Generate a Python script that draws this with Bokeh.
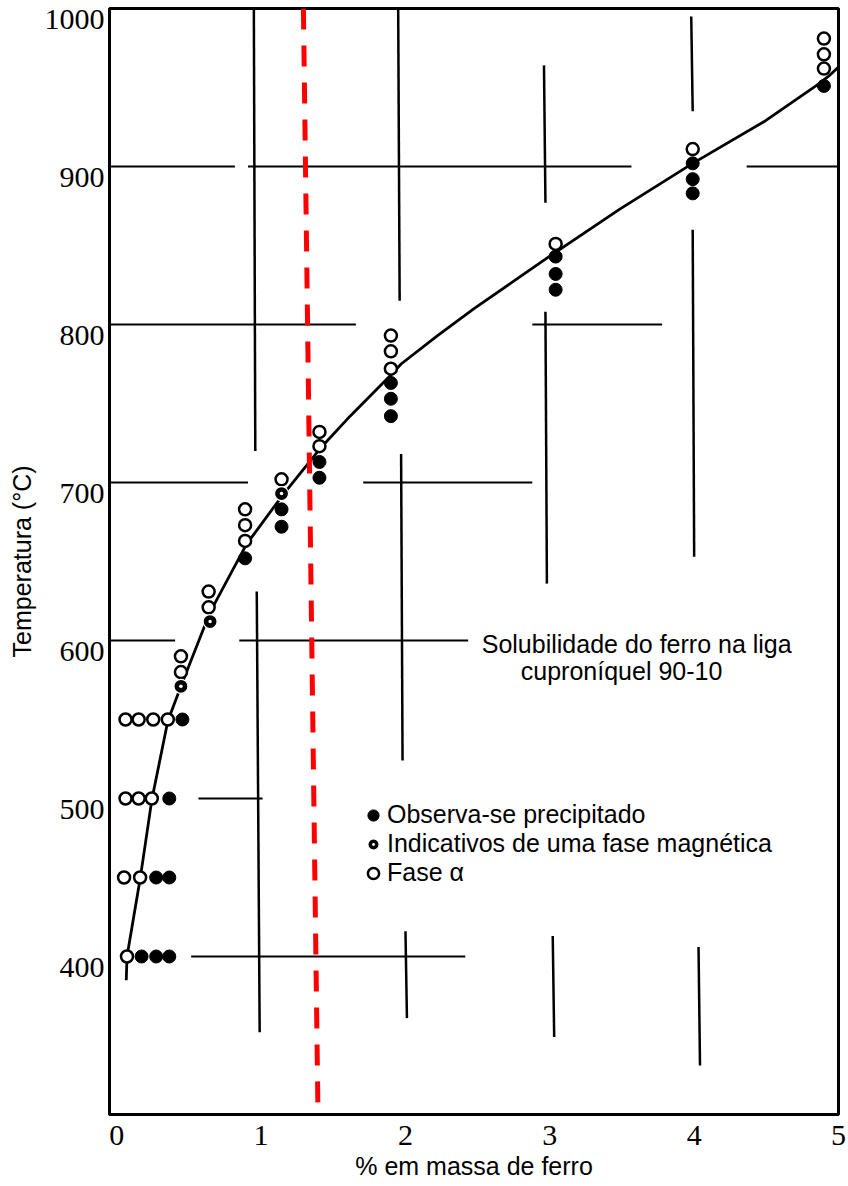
from bokeh.plotting import figure
from bokeh.models import Range1d, FixedTicker, Legend, LegendItem, Label
from bokeh.embed import file_html
from bokeh.resources import INLINE

# ---------------- data ----------------
x_ticks = [0, 1, 2, 3, 4, 5]
y_ticks = [400, 500, 600, 700, 800, 900, 1000]

# Fase alpha (open circles)
alpha_x = [0.11, 0.20, 0.30, 0.40, 0.11, 0.20, 0.29, 0.10, 0.21, 0.12,
           0.49, 0.49, 0.68, 0.68, 0.93, 0.93, 0.93, 1.18, 1.44, 1.44,
           1.93, 1.93, 1.93, 3.06, 4.00, 4.90, 4.90, 4.90]
alpha_y = [550, 550, 550, 550, 500, 500, 500, 450, 450, 400,
           590, 580, 631, 621, 683, 673, 663, 702, 732, 723,
           793, 783, 772, 851, 911, 981, 971, 962]

# Observa-se precipitado (filled circles)
prec_x = [0.50, 0.41, 0.32, 0.41, 0.22, 0.32, 0.41, 0.93, 1.18, 1.18,
          1.44, 1.44, 1.93, 1.93, 1.93, 3.06, 3.06, 3.06, 4.00, 4.00, 4.00, 4.90]
prec_y = [550, 500, 450, 450, 400, 400, 400, 652, 683, 672,
          713, 703, 763, 753, 742, 843, 832, 822, 902, 892, 883, 951]

# Indicativos de uma fase magnetica
mag_x = [0.49, 0.69, 1.18]
mag_y = [571, 612, 693]

# solubility curve
curve_x = [0.115, 0.12, 0.21, 0.29, 0.40, 0.49, 0.69, 0.94, 1.18, 1.44, 1.65,
           1.93, 2.00, 2.25, 2.50, 2.75, 3.00, 3.50, 4.00, 4.50, 4.86, 4.93, 5.00]
curve_y = [385, 400, 449, 499, 549, 571, 618, 661, 691, 721, 742,
           768, 775, 793, 810, 826, 842, 873, 902, 929, 952, 957, 963]

# red dashed marker line
red_x = [1.33, 1.43]
red_y = [1000, 300]

# broken grid of the scanned original
hgrid_y = [900, 900, 900, 800, 800, 700, 700, 600, 600, 500, 400]
hgrid_x0 = [0.00, 0.95, 4.37, 0.00, 2.90, 0.00, 1.74, 0.00, 0.89, 0.61, 0.56]
hgrid_x1 = [0.86, 3.58, 5.00, 1.69, 3.79, 0.95, 2.90, 0.45, 2.46, 1.05, 2.44]

vgrid_x0 = [0.99, 1.01, 1.98, 2.00, 2.03, 2.98, 2.99, 3.04, 3.99, 4.00, 4.04]
vgrid_x1 = [1.00, 1.03, 1.99, 2.01, 2.04, 2.99, 3.00, 3.05, 4.00, 4.01, 4.05]
vgrid_y0 = [1000, 631, 1000, 718, 416, 964, 808, 413, 995, 860, 406]
vgrid_y1 = [720, 352, 815, 524, 361, 877, 636, 349, 935, 653, 331]

# ---------------- figure ----------------
p = figure(width=848, height=1186,
           x_range=Range1d(0, 5), y_range=Range1d(300, 1000),
           output_backend="svg", toolbar_location=None,
           min_border_left=109, min_border_right=10,
           min_border_top=8, min_border_bottom=72,
           background_fill_color="white", border_fill_color="white")

# the scanned original prints its tick labels slightly below / right of the lines
p.extra_y_ranges = {"ylab": Range1d(307, 1007)}
p.extra_x_ranges = {"xlab": Range1d(-0.05, 5.0)}
p.yaxis[0].y_range_name = "ylab"
p.xaxis[0].x_range_name = "xlab"

p.xgrid.visible = False
p.ygrid.visible = False
p.outline_line_color = "black"
p.outline_line_width = 3

for ax in (p.xaxis[0], p.yaxis[0]):
    ax.axis_line_color = "black"
    ax.axis_line_width = 3
    ax.major_tick_in = 0
    ax.major_tick_out = 0
    ax.minor_tick_in = 0
    ax.minor_tick_out = 0
    ax.major_label_text_font = "Liberation Serif"
    ax.major_label_text_font_size = "30px"
    ax.major_label_text_color = "black"
    ax.axis_label_text_font = "Liberation Sans"
    ax.axis_label_text_font_size = "25px"
    ax.axis_label_text_font_style = "normal"
    ax.axis_label_text_color = "black"

p.xaxis.ticker = FixedTicker(ticks=x_ticks)
p.yaxis.ticker = FixedTicker(ticks=y_ticks)
p.xaxis.axis_label = "% em massa de ferro"
p.yaxis.axis_label = "Temperatura (\u00b0C)"
p.xaxis.major_label_standoff = 11
p.xaxis.axis_label_standoff = 4
p.yaxis.major_label_standoff = 5
p.yaxis.axis_label_standoff = 6

# grid pieces
p.segment(x0=hgrid_x0, y0=hgrid_y, x1=hgrid_x1, y1=hgrid_y,
          line_color="black", line_width=2)
p.segment(x0=vgrid_x0, y0=vgrid_y0, x1=vgrid_x1, y1=vgrid_y1,
          line_color="black", line_width=2.5)

# curve
p.line(curve_x, curve_y, line_color="black", line_width=2.8)

# points
r_open = p.scatter(alpha_x, alpha_y, marker="circle", size=12,
                   fill_color="white", line_color="black", line_width=2.5)
r_prec = p.scatter(prec_x, prec_y, marker="circle", size=13,
                   fill_color="black", line_color="black", line_width=1)
r_mag = p.scatter(mag_x, mag_y, marker="circle_dot", size=14,
                  fill_color="black", line_color="white", line_width=1.2)

# red dashed line
p.line(red_x, red_y, line_color="#ff0000", line_width=5, line_dash="21 16")

# legend
legend = Legend(items=[
    LegendItem(label="Observa-se precipitado", renderers=[r_prec]),
    LegendItem(label="Indicativos de uma fase magn\u00e9tica", renderers=[r_mag]),
    LegendItem(label="Fase \u03b1", renderers=[r_open]),
], location=(250, 227))
legend.border_line_color = None
legend.background_fill_alpha = 0
legend.padding = 0
legend.margin = 0
legend.spacing = 0
legend.glyph_width = 28
legend.glyph_height = 28
legend.label_standoff = 0
legend.label_height = 27
legend.label_text_font = "Liberation Sans"
legend.label_text_font_size = "25px"
legend.label_text_color = "black"
p.add_layout(legend)

# annotation
p.add_layout(Label(x=2.553, y=598, text="Solubilidade do ferro na liga",
                   text_font="Liberation Sans", text_font_size="25px",
                   text_align="left", text_baseline="middle", text_color="black"))
p.add_layout(Label(x=2.821, y=581, text="cupron\u00edquel 90-10",
                   text_font="Liberation Sans", text_font_size="25px",
                   text_align="left", text_baseline="middle", text_color="black"))

open("out.html", "w").write(file_html(p, INLINE))
